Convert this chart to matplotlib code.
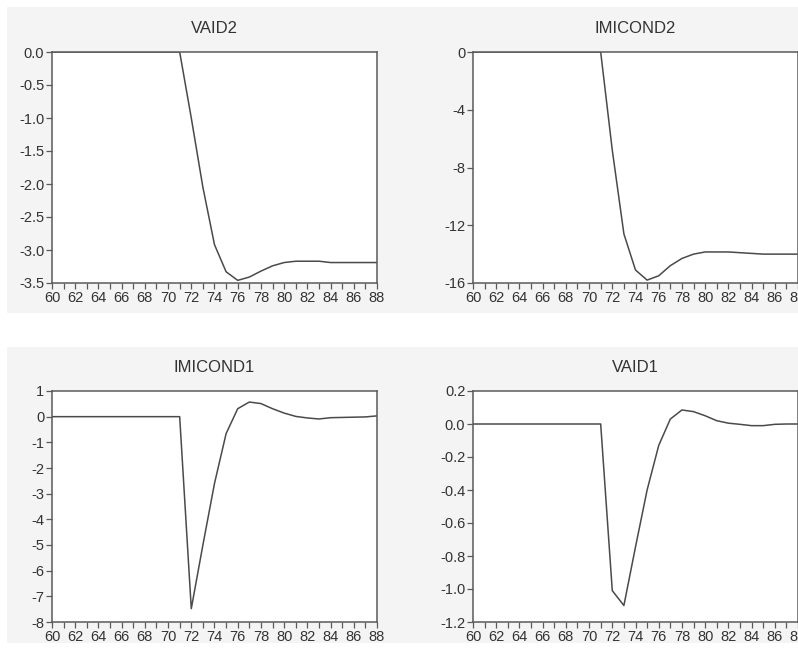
import matplotlib
matplotlib.use("Agg")
import matplotlib.pyplot as plt
from matplotlib.patches import Rectangle
from matplotlib.ticker import MultipleLocator, FormatStrFormatter

plt.rcParams['font.family'] = ['Liberation Sans', 'DejaVu Sans']
plt.rcParams['axes.unicode_minus'] = False

years = list(range(60, 89))

vaid2 = [0.0] * 12 + [-1.0, -2.05, -2.92, -3.33, -3.46, -3.41, -3.32, -3.24, -3.19,
                      -3.17, -3.17, -3.17, -3.19, -3.19, -3.19, -3.19, -3.19]
imicond2 = [0.0] * 12 + [-6.8, -12.6, -15.1, -15.8, -15.5, -14.8, -14.3, -14.0, -13.85,
                         -13.85, -13.85, -13.9, -13.95, -14.0, -14.0, -14.0, -14.0]
imicond1 = [0.0] * 12 + [-7.48, -5.0, -2.6, -0.66, 0.31, 0.57, 0.51, 0.31, 0.14,
                         0.01, -0.05, -0.09, -0.04, -0.03, -0.02, -0.01, 0.03]
vaid1 = [0.0] * 12 + [-1.01, -1.10, -0.745, -0.40, -0.13, 0.03, 0.085, 0.075, 0.05,
                      0.02, 0.005, -0.002, -0.01, -0.01, -0.002, 0.0, 0.0]

titles = ["VAID2", "IMICOND2", "IMICOND1", "VAID1"]
series = [vaid2, imicond2, imicond1, vaid1]
ylims = [(-3.5, 0.0), (-16, 0), (-8, 1), (-1.2, 0.2)]
ysteps = [0.5, 4, 1, 0.2]
yfmts = ["%.1f", "%d", "%d", "%.1f"]

W, H = 798, 650
fig = plt.figure(figsize=(W / 100, H / 100), dpi=100)
fig.patch.set_facecolor("white")

bg = "#f4f4f4"
for (x0, y0, x1, y1) in [(7, 7, 800, 313), (7, 347, 800, 643)]:
    fig.patches.append(Rectangle((x0 / W, 1 - y1 / H), (x1 - x0) / W, (y1 - y0) / H,
                                 transform=fig.transFigure, facecolor=bg,
                                 edgecolor="none", zorder=-10))

# axes pixel boxes: left, top, right, bottom
boxes = [(52, 52, 377, 283), (473, 52, 798, 283), (52, 391, 377, 622), (473, 391, 798, 622)]

for box, title, ys, yl, st, fmt in zip(boxes, titles, series, ylims, ysteps, yfmts):
    l, t, r, b = box
    ax = fig.add_axes([l / W, 1 - b / H, (r - l) / W, (b - t) / H])
    ax.set_zorder(1)
    ax.set_facecolor("white")
    ax.plot(years, ys, color="#4a4a4a", lw=1.1)
    ax.set_xlim(60, 88)
    ax.set_ylim(*yl)
    ax.xaxis.set_major_locator(MultipleLocator(2))
    ax.xaxis.set_minor_locator(MultipleLocator(1))
    ax.yaxis.set_major_locator(MultipleLocator(st))
    ax.yaxis.set_major_formatter(FormatStrFormatter(fmt))
    ax.tick_params(axis="both", which="both", direction="out", length=4, width=0.9,
                   colors="#5a5a5a", labelcolor="#333333", labelsize=10.5, pad=1.5)
    for sp in ax.spines.values():
        sp.set_color("#5a5a5a")
        sp.set_linewidth(1.1)
    ax.set_title(title, fontsize=12, color="#333333", pad=14)

fig.savefig("out.png", dpi=100, facecolor="white")
